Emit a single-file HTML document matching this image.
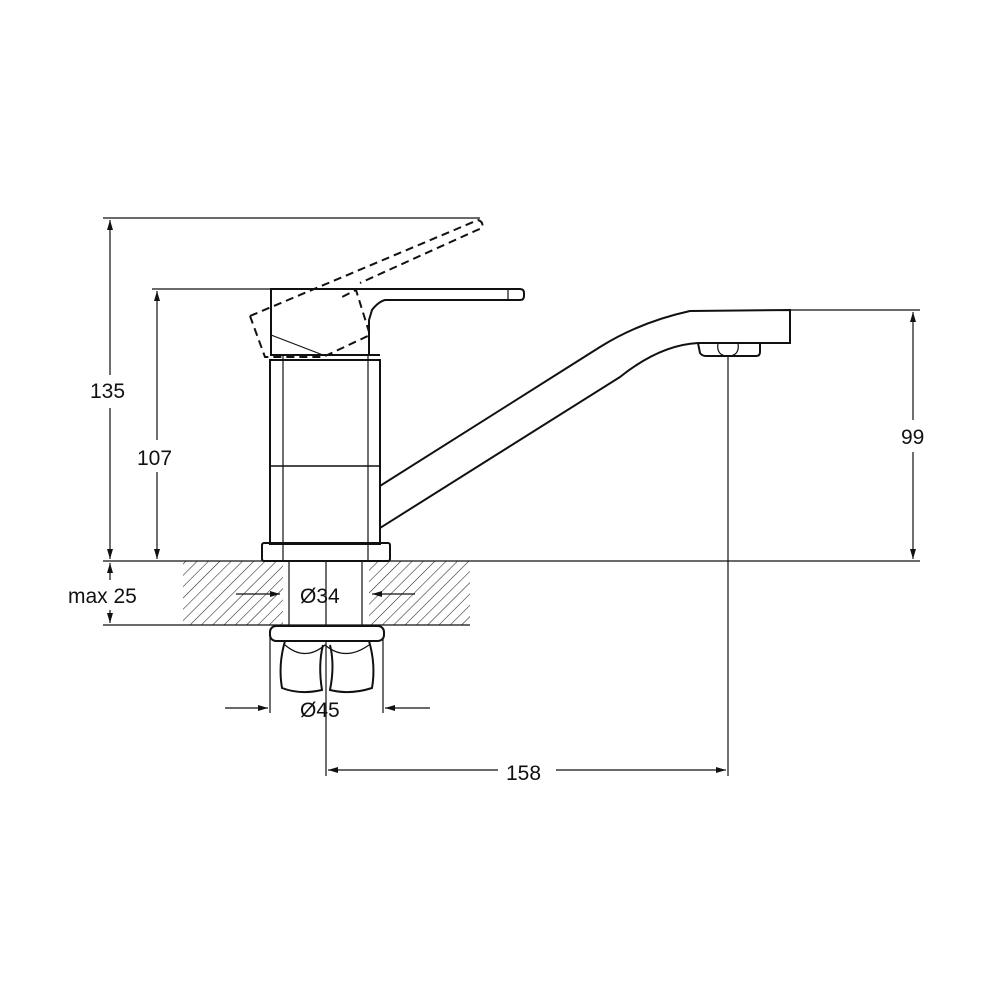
<!DOCTYPE html>
<html><head><meta charset="utf-8"><style>
html,body{margin:0;padding:0;background:#fff}
svg{display:block}
text{font-family:"Liberation Sans",Arial,sans-serif;font-size:21px;fill:#111}
</style></head><body>
<svg width="1000" height="1000" viewBox="0 0 1000 1000" xmlns="http://www.w3.org/2000/svg">
<defs>
<pattern id="h" width="8" height="8" patternUnits="userSpaceOnUse" patternTransform="rotate(45)">
<line x1="0" y1="0" x2="0" y2="8" stroke="#222" stroke-width="1.1"/>
</pattern>
<marker id="a" viewBox="0 0 10 6" refX="10" refY="3" markerWidth="10" markerHeight="6" orient="auto-start-reverse" markerUnits="userSpaceOnUse">
<path d="M0,0 L10,3 L0,6 Z" fill="#111"/>
</marker>
</defs>
<g stroke="#111" fill="none" stroke-width="1.2">
<rect x="183" y="561" width="100" height="64" fill="url(#h)" stroke="none"/>
<rect x="369" y="561" width="101" height="64" fill="url(#h)" stroke="none"/>
<line x1="103" y1="561" x2="920" y2="561"/>
<line x1="103" y1="625" x2="470" y2="625"/>
<line x1="103" y1="218" x2="480" y2="218"/>
<line x1="152" y1="289" x2="271" y2="289"/>
<line x1="790" y1="310" x2="920" y2="310"/>
<line x1="110" y1="220" x2="110" y2="375" marker-start="url(#a)"/>
<line x1="110" y1="408" x2="110" y2="559" marker-end="url(#a)"/>
<line x1="157" y1="291" x2="157" y2="440" marker-start="url(#a)"/>
<line x1="157" y1="472" x2="157" y2="559" marker-end="url(#a)"/>
<line x1="110" y1="563" x2="110" y2="580" marker-start="url(#a)"/>
<line x1="110" y1="610" x2="110" y2="623" marker-end="url(#a)"/>
<line x1="913" y1="312" x2="913" y2="420" marker-start="url(#a)"/>
<line x1="913" y1="452" x2="913" y2="559" marker-end="url(#a)"/>
<line x1="328" y1="770" x2="498" y2="770" marker-start="url(#a)"/>
<line x1="556" y1="770" x2="726" y2="770" marker-end="url(#a)"/>
<line x1="236" y1="594" x2="280" y2="594" marker-end="url(#a)"/>
<line x1="415" y1="594" x2="372" y2="594" marker-end="url(#a)"/>
<line x1="225" y1="708" x2="268" y2="708" marker-end="url(#a)"/>
<line x1="430" y1="708" x2="385" y2="708" marker-end="url(#a)"/>
<line x1="270" y1="635" x2="270" y2="713"/>
<line x1="383" y1="635" x2="383" y2="713"/>
<line x1="326" y1="561" x2="326" y2="776"/>
<line x1="728" y1="355" x2="728" y2="776"/>
<rect x="270" y="360" width="110" height="184" stroke-width="2"/>
<line x1="270" y1="466" x2="380" y2="466" stroke-width="1.5"/>
<line x1="283" y1="289" x2="283" y2="561"/>
<line x1="368" y1="340" x2="368" y2="561"/>
<rect x="262" y="543" width="128" height="18" rx="2" stroke-width="2"/>
<line x1="289" y1="561" x2="289" y2="625"/>
<line x1="362" y1="561" x2="362" y2="625"/>
<path d="M271,289 H520 Q524,289 524,293 V296 Q524,300 520,300 H385 Q378,302 372,310 L369,320 V355 H271 Z" stroke-width="2" fill="#fff"/>
<line x1="508" y1="289" x2="508" y2="300"/>
<path d="M271,335 L323,355 L284,355" />
<line x1="271" y1="355" x2="380" y2="355" stroke-width="2"/>
<g stroke-dasharray="8,5" stroke-width="2">
<path d="M250,316 L478,220 Q484,222 482,228 L475,231 L360,283"/>
<path d="M250,316 L265,357 L323,357 L370,335 L356,290 L342,297"/>
</g>
<path d="M380,486 L600,347 Q640,322 690,311 L790,310 V343 L698,343 Q660,345 620,377 L380,528" stroke-width="2"/>
<path d="M698,343 L700,353 Q702,356 706,356 L756,356 Q760,356 760,352 L760,343" stroke-width="2"/>
<path d="M718,343 Q716,356 728,356 Q740,356 738,343"/>
<rect x="270" y="626" width="114" height="15" rx="6" stroke-width="2" fill="#fff"/>
<path d="M285,641 Q278,665 282,688 Q300,695 322,690 Q318,665 323,645" stroke-width="2"/>
<path d="M330,645 Q335,665 330,690 Q350,695 372,688 Q376,665 369,641" stroke-width="2"/>
<path d="M285,645 Q305,662 325,645 Q345,662 369,645"/>
</g>
<text x="90" y="398">135</text>
<text x="137" y="465">107</text>
<text x="68" y="603">max 25</text>
<text x="901" y="444">99</text>
<text x="506" y="780">158</text>
<text x="300" y="603">Ø34</text>
<text x="300" y="717">Ø45</text>
</svg>
</body></html>
